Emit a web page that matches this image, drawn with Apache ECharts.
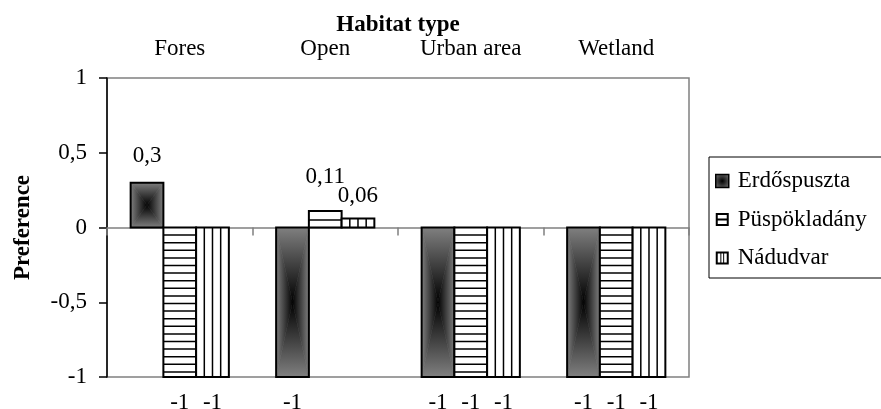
<!DOCTYPE html>
<html>
<head>
<meta charset="utf-8">
<script src="https://cdn.jsdelivr.net/npm/echarts@6/dist/echarts.min.js"></script>
<style>html,body{margin:0;padding:0;background:#fff}#c{width:881px;height:409px}</style>
</head>
<body>
<div id="c"></div>
<script>
// ---- data ----
var categories = ['Fores', 'Open', 'Urban area', 'Wetland'];
var seriesNames = ['Erdőspuszta', 'Püspökladány', 'Nádudvar'];
var erdospuszta = [0.3, -1, -1, -1];
var puspokladany = [-1, 0.11, -1, -1];
var nadudvar = [-1, 0.06, -1, -1];
var yTicks = [-1, -0.5, 0, 0.5, 1];
var xTitle = 'Habitat type';
var yTitle = 'Preference';

// ---- style ----
var FONT = "'Liberation Serif', 'Times New Roman', serif";
var FS = 23;
var BAR_FRAC = 0.225;
var EDGE = '#808080';
var labelGap = { '0-0': 15.5, '1-1': 23, '2-1': 11.5 };
var DEFAULT_GAP = 14.5;

function fmt(v) { return String(v).replace('.', ','); }

function grad(x, y, x2, y2, c0, c1) {
  return { type: 'linear', x: x, y: y, x2: x2, y2: y2,
    colorStops: [{ offset: 0, color: c0 }, { offset: 1, color: c1 }] };
}

function makeRender(si) {
  return function (params, api) {
    var ci = api.value(0), v = api.value(1);
    var p0 = api.coord([ci, 0]);
    var p1 = api.coord([ci, v]);
    var cw = api.size([1, 0])[0];
    var bw = cw * BAR_FRAC;
    var x = p0[0] - 1.5 * bw + si * bw;
    var y = Math.min(p0[1], p1[1]);
    var h = Math.abs(p1[1] - p0[1]);
    var w = bw;
    var cx = x + w / 2, cy = y + h / 2;
    var ch = [];
    if (si === 0) {
      var tris = [
        [[[x, y], [x + w, y], [cx, cy]], grad(0, 0, 0, 1, EDGE, '#000')],
        [[[x, y + h], [x + w, y + h], [cx, cy]], grad(0, 0, 0, 1, '#000', EDGE)],
        [[[x, y], [x, y + h], [cx, cy]], grad(0, 0, 1, 0, EDGE, '#000')],
        [[[x + w, y], [x + w, y + h], [cx, cy]], grad(0, 0, 1, 0, '#000', EDGE)]
      ];
      tris.forEach(function (t) {
        ch.push({ type: 'polygon', shape: { points: t[0] },
          style: { fill: t[1], stroke: t[1], lineWidth: 0.6 } });
      });
    } else {
      ch.push({ type: 'rect', shape: { x: x, y: y, width: w, height: h }, style: { fill: '#fff' } });
      if (si === 1) {
        var step = 7.6;
        for (var k = 1; k * step < h - 1.5; k++) {
          var yy = v >= 0 ? (p0[1] - k * step) : (p0[1] + k * step);
          ch.push({ type: 'line', shape: { x1: x, y1: yy, x2: x + w, y2: yy },
            style: { stroke: '#000', lineWidth: 1.5 } });
        }
      } else {
        for (var j = 1; j <= 3; j++) {
          var xx = x + w * j / 4;
          ch.push({ type: 'line', shape: { x1: xx, y1: y, x2: xx, y2: y + h },
            style: { stroke: '#000', lineWidth: 1.5 } });
        }
      }
    }
    ch.push({ type: 'rect', shape: { x: x, y: y, width: w, height: h },
      style: { fill: null, stroke: '#000', lineWidth: 2 } });
    var gap = labelGap[si + '-' + ci];
    if (gap == null) gap = DEFAULT_GAP;
    ch.push({ type: 'text', x: cx, y: v >= 0 ? y - gap : y + h + gap,
      style: { text: fmt(v), fill: '#000', font: FS + 'px ' + FONT,
        align: 'center', verticalAlign: v >= 0 ? 'bottom' : 'top' } });
    return { type: 'group', children: ch };
  };
}

var seriesValues = [erdospuszta, puspokladany, nadudvar];
var series = seriesValues.map(function (vals, si) {
  return {
    type: 'custom',
    name: seriesNames[si],
    xAxisIndex: 0,
    yAxisIndex: 0,
    clip: false,
    renderItem: makeRender(si),
    encode: { x: 0, y: 1 },
    itemStyle: { color: si === 0 ? '#555' : '#000' },
    data: vals.map(function (v, i) { return [i, v]; })
  };
});

var chart = echarts.init(document.getElementById('c'), null, { renderer: 'canvas' });
chart.setOption({
  animation: false,
  backgroundColor: '#fff',
  grid: { left: 107, right: 192, top: 78, bottom: 32, show: true, borderColor: '#808080', borderWidth: 1.5,
    containLabel: false, outerBoundsMode: 'none' },
  legend: {
    orient: 'vertical', left: 709, top: 157,
    padding: [12, 40, 8, 6],
    borderColor: '#000', borderWidth: 1,
    itemWidth: 21, itemHeight: 13, itemGap: 14.5,
    symbolKeepAspect: true,
    textStyle: { fontFamily: FONT, fontSize: 23, color: '#000', lineHeight: 24 },
    data: [
      { name: seriesNames[0], icon: 'path://M0,0H13V13H0Z',
        itemStyle: { color: { type: 'radial', x: 0.5, y: 0.5, r: 0.7,
          colorStops: [{ offset: 0, color: '#000' }, { offset: 1, color: '#808080' }] },
          borderColor: '#000', borderWidth: 1.5 } },
      { name: seriesNames[1], icon: 'path://M0,0H13V13H0Z M2,2V5.6H11V2Z M2,7.4V11H11V7.4Z',
        itemStyle: { color: '#000', borderWidth: 0 } },
      { name: seriesNames[2], icon: 'path://M0,0H13V13H0Z M2,2V11H4.6V2Z M5.6,2V11H7.4V2Z M8.4,2V11H11V2Z',
        itemStyle: { color: '#000', borderWidth: 0 } }
    ]
  },
  xAxis: [
    {
      type: 'category', data: categories, position: 'bottom',
      axisLine: { onZero: true, lineStyle: { color: '#808080', width: 1.5 } },
      axisTick: { show: true, length: 8, inside: false, alignWithLabel: false, lineStyle: { color: '#808080', width: 1.5 } },
      axisLabel: { show: false },
      splitLine: { show: false }
    },
    {
      type: 'category', data: categories, position: 'top',
      axisLine: { show: false, onZero: false },
      axisTick: { show: false },
      axisLabel: { show: true, margin: 18, color: '#000', fontFamily: FONT, fontSize: FS },
      splitLine: { show: false },
      name: xTitle, nameLocation: 'middle', nameGap: 41, nameMoveOverlap: false,
      nameTextStyle: { fontFamily: FONT, fontSize: FS, fontWeight: 'bold', color: '#000' }
    }
  ],
  yAxis: {
    type: 'value', min: yTicks[0], max: yTicks[yTicks.length - 1], interval: 0.5,
    axisLine: { show: true, onZero: false, lineStyle: { color: '#000', width: 1.5 } },
    axisTick: { show: true, length: 8, inside: false, lineStyle: { color: '#000', width: 1.5 } },
    axisLabel: { margin: 20, color: '#000', fontFamily: FONT, fontSize: FS, formatter: fmt },
    splitLine: { show: false },
    name: yTitle, nameLocation: 'middle', nameGap: 72, nameRotate: 90, nameMoveOverlap: false,
    nameTextStyle: { fontFamily: FONT, fontSize: FS, fontWeight: 'bold', color: '#000' }
  },
  series: series
});
</script>
</body>
</html>
